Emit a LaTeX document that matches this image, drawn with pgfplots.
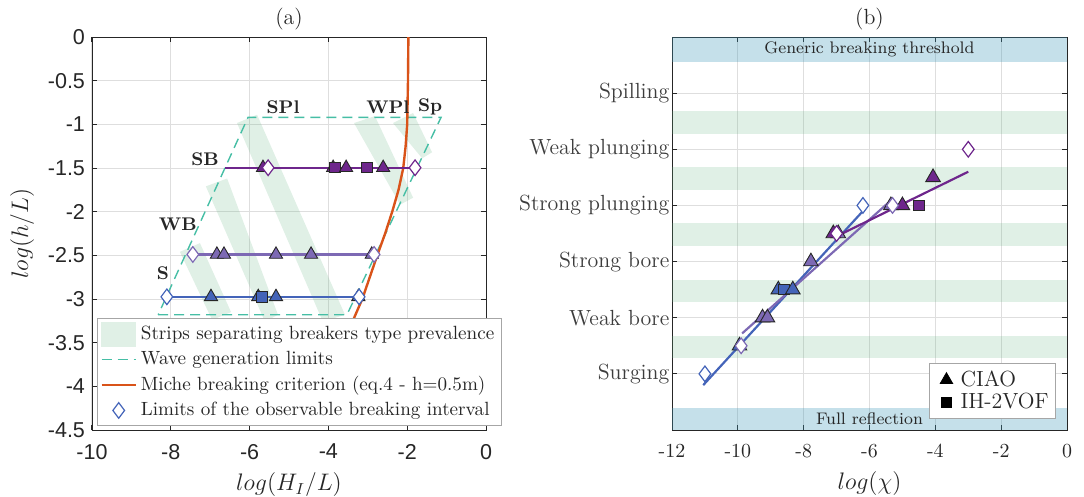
\documentclass[border=0pt]{standalone}
\usepackage{fontspec}
\usepackage{pgfplots}
\pgfplotsset{compat=1.18}
\newfontfamily\hv{Liberation Sans}

\definecolor{sblue}{RGB}{68,100,185}
\definecolor{wbpur}{RGB}{125,105,180}
\definecolor{sbpur}{RGB}{110,38,140}
\definecolor{stripg}{RGB}{100,180,130}
\definecolor{stripl}{RGB}{224,240,230}
\definecolor{bandb}{RGB}{62,152,185}
\definecolor{wgl}{RGB}{70,190,165}
\definecolor{miche}{RGB}{217,83,25}
\definecolor{axc}{RGB}{38,38,38}
\definecolor{gridc}{RGB}{222,222,222}

\pgfplotsset{
  panel/.style={
    scale only axis,
    axis line style={axc},
    tick style={axc, line width=0.5pt},
    major tick length=2.5bp,
    tick align=inside,
    grid=major,
    grid style={gridc, line width=0.5pt},
    title style={font=\fontsize{11}{13}\selectfont, text=axc, yshift=-6bp},
    label style={font=\fontsize{12}{14}\selectfont, text=axc},
    xticklabel style={yshift=-3.5bp},
  },
  tri/.style={only marks, mark=triangle*, mark size=3.8bp,
    mark options={fill=#1, draw=black!85, line width=0.45pt}},
  sq/.style={only marks, mark=square*, mark size=2.6bp,
    mark options={fill=#1, draw=black!85, line width=0.45pt}},
  dia/.style={only marks, mark=diamond*, mark size=3.9bp,
    mark options={fill=white, draw=#1, line width=0.6pt}},
}

\begin{document}
\begin{tikzpicture}

% ---------------- panel (a)
\begin{axis}[panel,
  at={(0,0)}, anchor=south west,
  width=197bp, height=196.5bp,
  xmin=-10, xmax=0, ymin=-4.5, ymax=0,
  xtick={-10,-8,-6,-4,-2,0},
  xticklabels={-10,-8,-6,-4,-2,0},
  ytick={-4.5,-4,-3.5,-3,-2.5,-2,-1.5,-1,-0.5,0},
  yticklabels={-4.5,-4,-3.5,-3,-2.5,-2,-1.5,-1,-0.5,0},
  ticklabel style={font=\hv\fontsize{10.8}{12}\selectfont, text=axc},
  title={(a)},
  xlabel={$log(H_I/L)$},
  ylabel={$log(h/L)$},
  legend style={at={(0.013,0.01)}, anchor=south west, draw=gray!70, fill=white,
    font=\fontsize{9.6}{11.5}\selectfont, text=axc, inner sep=1.5bp, row sep=0.3bp,
    cells={anchor=west}},
]
\addlegendimage{legend image code/.code={\fill[stripl] (0cm,-0.2cm) rectangle (0.6cm,0.22cm);}}
\addlegendentry{Strips separating breakers type prevalence}
\addlegendimage{draw=wgl, dash pattern=on 5bp off 3bp, line width=0.7pt}
\addlegendentry{Wave generation limits}
\addlegendimage{draw=miche, line width=1.2pt}
\addlegendentry{Miche breaking criterion (eq.4 - h=0.5m)}
\addlegendimage{dia=sblue}
\addlegendentry{Limits of the observable breaking interval}

% strips
\addplot[fill=stripg, fill opacity=0.2, draw=none] coordinates {(-7.77,-2.46) (-7.26,-2.36) (-6.47,-3.15) (-6.95,-3.24)} --cycle;
\addplot[fill=stripg, fill opacity=0.2, draw=none] coordinates {(-7.11,-1.71) (-6.57,-1.62) (-5.28,-3.18) (-5.61,-3.26)} --cycle;
\addplot[fill=stripg, fill opacity=0.2, draw=none] coordinates {(-6.32,-0.985) (-5.81,-0.89) (-3.58,-3.18) (-4.14,-3.26)} --cycle;
\addplot[fill=stripg, fill opacity=0.2, draw=none] coordinates {(-3.35,-0.985) (-2.82,-0.905) (-1.85,-1.84) (-2.18,-1.92)} --cycle;
\addplot[fill=stripg, fill opacity=0.2, draw=none] coordinates {(-2.36,-0.985) (-1.85,-0.87) (-1.37,-1.32) (-1.62,-1.39)} --cycle;

% wave generation limits
\addplot[draw=wgl, dash pattern=on 5bp off 3bp, line width=0.7pt] coordinates {(-8.32,-3.18) (-3.53,-3.18) (-1.14,-0.92) (-6.04,-0.92) (-8.32,-3.18)};

% Miche criterion
\addplot[draw=miche, line width=1.2pt] coordinates {
  (-1.97,0) (-1.98,-0.5) (-2.00,-1) (-2.04,-1.25) (-2.10,-1.5) (-2.22,-1.75)
  (-2.38,-2) (-2.56,-2.25) (-2.76,-2.5) (-2.95,-2.75) (-3.14,-3) (-3.38,-3.25)
  (-3.62,-3.5) (-3.87,-3.75) (-4.12,-4)};

% S
\addplot[sblue, line width=1.1pt] coordinates {(-8.1,-2.975) (-3.22,-2.975)};
\addplot[tri=sblue] coordinates {(-6.98,-2.975) (-5.78,-2.975)};
\addplot[sq=sblue] coordinates {(-5.69,-2.975)};
\addplot[tri=sblue] coordinates {(-5.33,-2.975) (-3.24,-2.975)};
\addplot[dia=sblue] coordinates {(-8.1,-2.975) (-3.22,-2.975)};
% WB
\addplot[wbpur, line width=1.1pt] coordinates {(-7.44,-2.49) (-2.84,-2.49)};
\addplot[tri=wbpur] coordinates {(-6.83,-2.49) (-6.65,-2.49) (-5.33,-2.49) (-4.44,-2.49) (-2.90,-2.49)};
\addplot[dia=wbpur] coordinates {(-7.44,-2.49) (-2.84,-2.49)};
% SB
\addplot[sbpur, line width=1.1pt] coordinates {(-6.62,-1.497) (-1.8,-1.497)};
\addplot[tri=sbpur] coordinates {(-5.66,-1.497) (-3.88,-1.497)};
\addplot[sq=sbpur] coordinates {(-3.83,-1.497) (-3.02,-1.497)};
\addplot[tri=sbpur] coordinates {(-3.55,-1.497) (-2.61,-1.497)};
\addplot[dia=sbpur] coordinates {(-5.53,-1.497) (-1.8,-1.497)};

\begin{scope}[font=\bfseries\fontsize{9.2}{11}\selectfont, text=axc]
\node at (-8.2,-2.70) {S};
\node at (-7.82,-2.15) {WB};
\node at (-7.13,-1.40) {SB};
\node at (-5.15,-0.80) {SPl};
\node at (-2.49,-0.80) {WPl};
\node at (-1.42,-0.80) {Sp};
\end{scope}
\end{axis}

% ---------------- panel (b)
\begin{axis}[panel,
  at={(290bp,0)}, anchor=south west,
  width=197.5bp, height=196.5bp,
  xmin=-12, xmax=0, ymin=0, ymax=7,
  xtick={-12,-10,-8,-6,-4,-2,0},
  xticklabels={-12,-10,-8,-6,-4,-2,0},
  ytick={1,2,3,4,5,6},
  yticklabels={Surging,Weak bore,Strong bore,Strong plunging,Weak plunging,Spilling},
  xticklabel style={font=\fontsize{10}{12}\selectfont, text=axc},
  yticklabel style={font=\fontsize{11}{13}\selectfont, text=axc!90, xshift=2.2bp},
  title={(b)},
  xlabel={$log(\chi)$},
  legend style={at={(0.972,0.028)}, anchor=south east, draw=gray!70, fill=white,
    font=\fontsize{11}{13}\selectfont, text=axc, inner sep=1.5bp, row sep=-2bp,
    cells={anchor=west}},
  legend image code/.code={
    \path[draw=none, fill=none] (0cm,-0.05cm) rectangle (0.42cm,0.05cm);
    \draw[#1] plot coordinates {(0.24cm,0cm)};},
]
\addlegendimage{only marks, mark=triangle*, black, mark size=3.6bp}
\addlegendentry{CIAO}
\addlegendimage{only marks, mark=square*, black, mark size=2.3bp}
\addlegendentry{IH-2VOF}

% bands
\addplot[fill=bandb, fill opacity=0.3, draw=none] coordinates {(-12,6.56) (0,6.56) (0,7) (-12,7)} --cycle;
\addplot[fill=bandb, fill opacity=0.3, draw=none] coordinates {(-12,0) (0,0) (0,0.39) (-12,0.39)} --cycle;
\addplot[fill=stripg, fill opacity=0.2, draw=none] coordinates {(-12,1.28) (0,1.28) (0,1.68) (-12,1.68)} --cycle;
\addplot[fill=stripg, fill opacity=0.2, draw=none] coordinates {(-12,2.28) (0,2.28) (0,2.68) (-12,2.68)} --cycle;
\addplot[fill=stripg, fill opacity=0.2, draw=none] coordinates {(-12,3.28) (0,3.28) (0,3.68) (-12,3.68)} --cycle;
\addplot[fill=stripg, fill opacity=0.2, draw=none] coordinates {(-12,4.28) (0,4.28) (0,4.68) (-12,4.68)} --cycle;
\addplot[fill=stripg, fill opacity=0.2, draw=none] coordinates {(-12,5.28) (0,5.28) (0,5.68) (-12,5.68)} --cycle;

% fit lines
\addplot[sblue, line width=1.1pt] coordinates {(-11.05,0.8) (-6.2,3.9)};
\addplot[wbpur, line width=1.1pt] coordinates {(-9.87,1.72) (-5.31,4.11)};
\addplot[sbpur, line width=1.1pt] coordinates {(-7.0,3.45) (-3.0,4.6)};

% markers
\addplot[tri=sblue, mark size=4.2bp] coordinates {(-9.95,1.5) (-8.77,2.5)};
\addplot[sq=sblue] coordinates {(-8.6,2.5)};
\addplot[tri=sblue, mark size=4.2bp] coordinates {(-8.33,2.5)};
\addplot[tri=wbpur, mark size=4.2bp] coordinates {(-9.25,2) (-9.1,2) (-7.78,3) (-6.95,3.5) (-5.35,4)};
\addplot[tri=sbpur, mark size=4.2bp] coordinates {(-7.1,3.5) (-5.0,4) (-4.07,4.5)};
\addplot[sq=sbpur] coordinates {(-4.5,4)};

\addplot[dia=sblue] coordinates {(-11.0,1) (-6.2,4)};
\addplot[dia=wbpur] coordinates {(-9.9,1.5) (-5.3,4)};
\addplot[dia=sbpur] coordinates {(-7.0,3.5) (-3.0,5)};

\begin{scope}[font=\fontsize{8.4}{10}\selectfont, text=axc]
\node at (-6,6.78) {Generic breaking threshold};
\node at (-6,0.2) {Full reflection};
\end{scope}
\end{axis}

\pgfresetboundingbox
\path[use as bounding box] (-46bp,-33.5bp) rectangle (496bp,215bp);
\end{tikzpicture}
\end{document}
